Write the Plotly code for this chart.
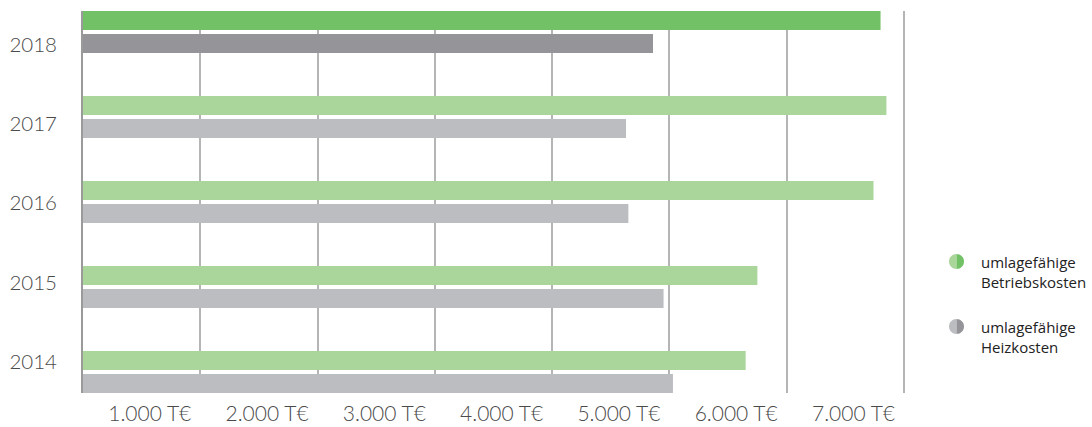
import plotly.graph_objects as go

# ---- data ----
years = ["2014", "2015", "2016", "2017", "2018"]
betriebskosten = [5650, 5750, 6740, 6850, 6800]   # T€
heizkosten = [5030, 4950, 4650, 4630, 4860]       # T€
x_ticks = [1000, 2000, 3000, 4000, 5000, 6000, 7000]
x_tick_labels = ["1.000 T€", "2.000 T€", "3.000 T€", "4.000 T€", "5.000 T€", "6.000 T€", "7.000 T€"]
legend_labels = ["umlagefähige<br>Betriebskosten", "umlagefähige<br>Heizkosten"]
highlight_year = "2018"

# ---- styles ----
GREEN_LIGHT, GREEN_DARK = "#aad59b", "#72c166"
GRAY_LIGHT, GRAY_DARK = "#bcbdc1", "#959599"

W, H = 1092, 427
L, R, T, B = 83, 906, 11, 393  # plot area in px (7000 sits at ~904 px)
PW, PH = R - L, B - T
X_MAX = 7000 * PW / 821.0


def px_x(px):
    return (px - L) / PW


def px_y(py):
    return (B - py) / PH


green_colors = [GREEN_DARK if y == highlight_year else GREEN_LIGHT for y in years]
gray_colors = [GRAY_DARK if y == highlight_year else GRAY_LIGHT for y in years]

fig = go.Figure()
fig.add_trace(go.Bar(y=years, x=heizkosten, orientation="h", marker=dict(color=gray_colors, line=dict(width=0)),
                     name="umlagefähige Heizkosten", showlegend=False, hoverinfo="x+y"))
fig.add_trace(go.Bar(y=years, x=betriebskosten, orientation="h", marker=dict(color=green_colors, line=dict(width=0)),
                     name="umlagefähige Betriebskosten", showlegend=False, hoverinfo="x+y"))
# invisible trace for the year label axis
fig.add_trace(go.Scatter(y=years, x=betriebskosten, yaxis="y2", mode="markers",
                         marker=dict(opacity=0), showlegend=False, hoverinfo="skip"))

LABEL_FONT = dict(family="Lato", weight=300, color="#4a4a4a")

n = len(years)
fig.update_layout(
    width=W, height=H,
    margin=dict(l=L, r=W - R, t=T, b=H - B, pad=0, autoexpand=False),
    paper_bgcolor="white", plot_bgcolor="white",
    barmode="group", bargap=0.4595, bargroupgap=0.174,
    font=dict(family="Lato", color="#555555"),
    xaxis=dict(range=[0, X_MAX], tickvals=x_ticks, ticktext=x_tick_labels, automargin=False,
               showgrid=True, gridcolor="#b5b5b5", gridwidth=1.5, zeroline=False, showline=False,
               ticks="", ticklabelstandoff=6, ticklabelshift=-9,
               ticklabelposition="outside left", tickfont=dict(size=21, **LABEL_FONT)),
    yaxis=dict(type="category", categoryarray=years, range=[-0.2468, n - 1 + 0.2468], automargin=False,
               showticklabels=False, showgrid=False, zeroline=False,
               showline=True, linecolor="#9a9a9a", linewidth=2, ticks=""),
    yaxis2=dict(type="category", categoryarray=years, overlaying="y", side="left", automargin=False,
                range=[-0.3906, n - 1 + 0.422], showgrid=False, zeroline=False, showline=False,
                ticks="", ticklabelstandoff=25,
                tickfont=dict(size=20.5, **LABEL_FONT)),
)

# custom legend: half-coloured circles + text
r = 7.5
k = 0.5523 * r
left_half = f"M 0,{-r} C {-k},{-r} {-r},{-k} {-r},0 C {-r},{k} {-k},{r} 0,{r} Z"
right_half = f"M 0,{-r} C {k},{-r} {r},{-k} {r},0 C {r},{k} {k},{r} 0,{r} Z"
legend_items = [(legend_labels[0], GREEN_LIGHT, GREEN_DARK, 261.5),
                (legend_labels[1], GRAY_LIGHT, GRAY_DARK, 326.5)]
for text, c_light, c_dark, cy in legend_items:
    for path, col in ((left_half, c_light), (right_half, c_dark)):
        fig.add_shape(type="path", path=path, xref="paper", yref="paper",
                      xsizemode="pixel", ysizemode="pixel",
                      xanchor=px_x(956.5), yanchor=px_y(cy),
                      fillcolor=col, line=dict(width=0))
    fig.add_annotation(text=text, xref="paper", yref="paper", x=px_x(979), y=px_y(cy - 12),
                       xanchor="left", yanchor="top", align="left", showarrow=False,
                       font=dict(size=15, family="Open Sans", color="#222222"))

fig.write_html("out.html")
